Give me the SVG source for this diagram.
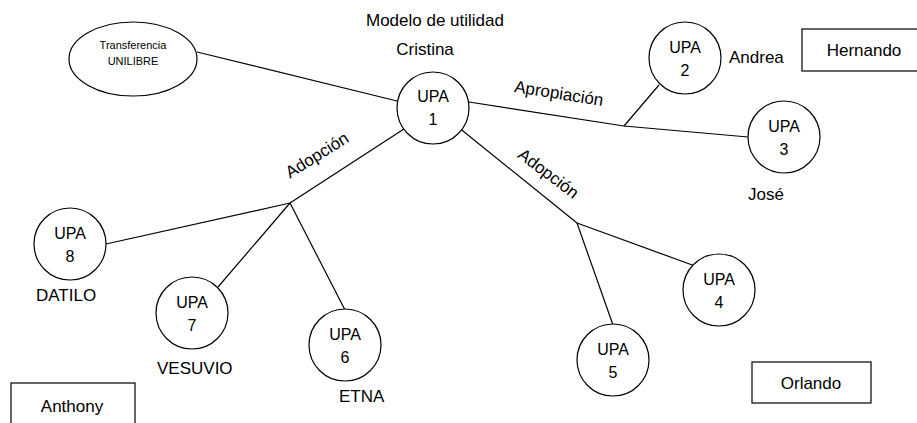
<svg xmlns="http://www.w3.org/2000/svg" width="917" height="423" viewBox="0 0 917 423">
<style>
text{font-family:"Liberation Sans",Arial,sans-serif;font-size:17px;fill:#000}
.c{fill:#fff;stroke:#000;stroke-width:1.2}
.u{font-size:16px;text-anchor:middle}
.m{text-anchor:middle}
.s{font-size:11px;text-anchor:middle}
.e line{stroke:#000;stroke-width:1.2}
</style>
<rect width="917" height="423" fill="#fff"/>
<g id="connectors" class="e">
<line x1="197" y1="52" x2="397" y2="101"/>
<line x1="469" y1="102" x2="624" y2="126"/>
<line x1="624" y1="126" x2="748" y2="137"/>
<line x1="624" y1="126" x2="659" y2="85"/>
<line x1="458" y1="127" x2="577" y2="223"/>
<line x1="577" y1="223" x2="695" y2="266"/>
<line x1="577" y1="223" x2="613" y2="325"/>
<line x1="407" y1="127" x2="290" y2="203"/>
<line x1="290" y1="203" x2="106" y2="244"/>
<line x1="290" y1="203" x2="218" y2="287"/>
<line x1="290" y1="203" x2="345" y2="310"/>
</g>
<g id="labels">
<text class="m" x="435" y="26">Modelo de utilidad</text>
<text class="m" x="425" y="55">Cristina</text>
<text class="m" x="558" y="99" transform="rotate(9 558 99)">Apropiación</text>
<text class="m" x="545" y="178" transform="rotate(37 545 178)">Adopción</text>
<text class="m" x="320" y="160" transform="rotate(-32 320 160)">Adopción</text>
<text x="729" y="63">Andrea</text>
<text x="748" y="200">José</text>
<text x="36" y="301">DATILO</text>
<text x="157" y="374">VESUVIO</text>
<text x="339" y="402">ETNA</text>
</g>
<g id="transferencia">
<ellipse class="c" cx="133" cy="59" rx="64" ry="37"/>
<text class="s" x="133" y="49">Transferencia</text>
<text class="s" x="133" y="65">UNILIBRE</text>
</g>
<g id="upa1"><circle class="c" cx="433" cy="108" r="36"/><text class="u" x="433" y="102">UPA</text><text class="u" x="433" y="125">1</text></g>
<g id="upa2"><circle class="c" cx="685" cy="58" r="36"/><text class="u" x="685" y="53">UPA</text><text class="u" x="685" y="76">2</text></g>
<g id="upa3"><circle class="c" cx="784" cy="137" r="36"/><text class="u" x="784" y="132">UPA</text><text class="u" x="784" y="155">3</text></g>
<g id="upa4"><circle class="c" cx="719" cy="290" r="36"/><text class="u" x="719" y="285">UPA</text><text class="u" x="719" y="308">4</text></g>
<g id="upa5"><circle class="c" cx="613" cy="360" r="36"/><text class="u" x="613" y="355">UPA</text><text class="u" x="613" y="378">5</text></g>
<g id="upa6"><circle class="c" cx="345" cy="345" r="36"/><text class="u" x="345" y="340">UPA</text><text class="u" x="345" y="363">6</text></g>
<g id="upa7"><circle class="c" cx="192" cy="313" r="36"/><text class="u" x="192" y="308">UPA</text><text class="u" x="192" y="331">7</text></g>
<g id="upa8"><circle class="c" cx="70" cy="244" r="36"/><text class="u" x="70" y="239">UPA</text><text class="u" x="70" y="262">8</text></g>
<g id="hernando"><rect class="c" x="802" y="29" width="117" height="42"/><text class="m" x="864" y="56">Hernando</text></g>
<g id="orlando"><rect class="c" x="752" y="362" width="119" height="41"/><text class="m" x="811" y="389">Orlando</text></g>
<g id="anthony"><rect class="c" x="11" y="383" width="124" height="45"/><text class="m" x="72" y="412">Anthony</text></g>
</svg>
